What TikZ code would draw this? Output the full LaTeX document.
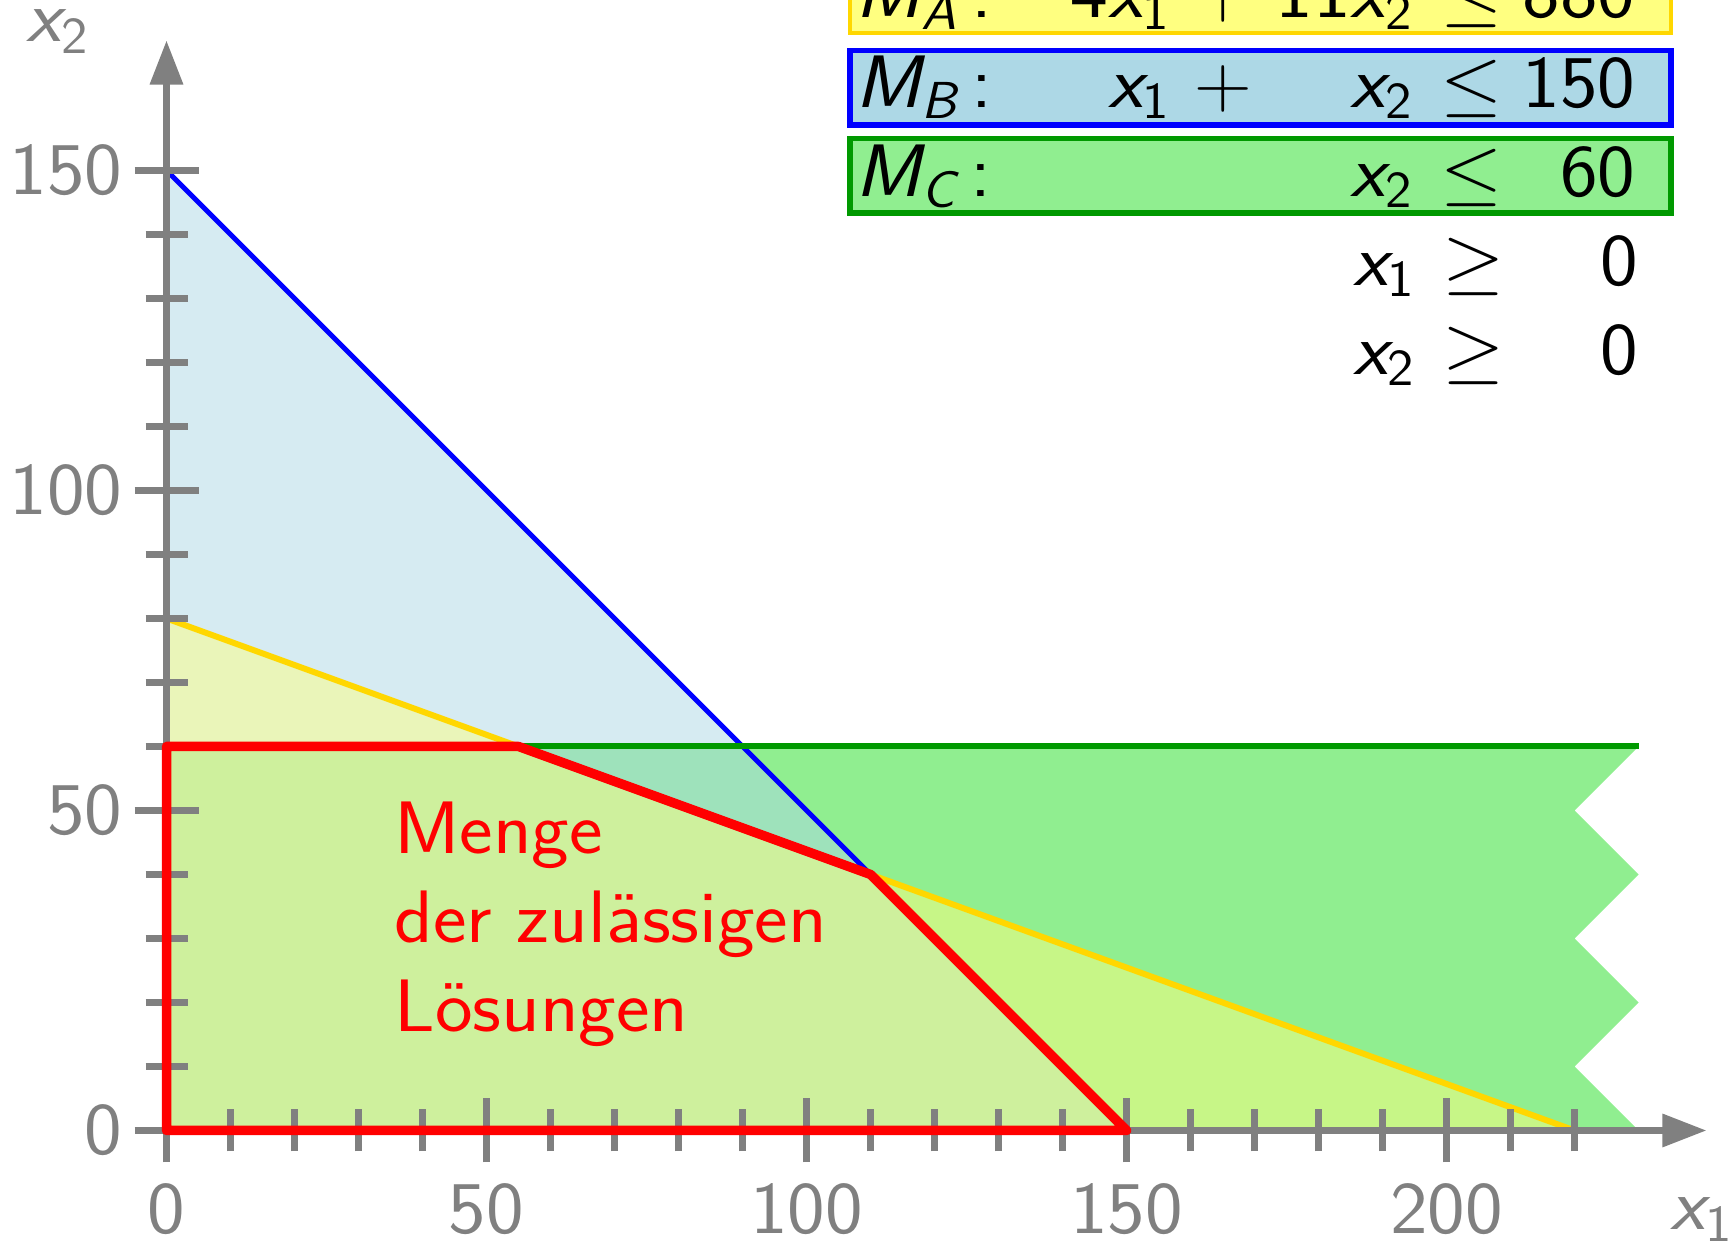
\RequirePackage{fix-cm}
\documentclass[tikz,border=0pt]{standalone}
\usepackage{graphicx}
\usetikzlibrary{arrows.meta}
\definecolor{fillyellow}{RGB}{255,255,128}
\definecolor{fillblue}{RGB}{173,216,230}
\definecolor{fillgreen}{RGB}{144,238,144}
\definecolor{lineyellow}{RGB}{255,215,0}
\definecolor{linegreen}{RGB}{0,153,0}
\definecolor{axisgray}{RGB}{128,128,128}
\newcommand\sx[1]{\scalebox{1.075}[1]{#1}}
\newcommand\vi[2]{{\itshape #1}\textsubscript{#2}}
\newcommand\lab[1]{\vi{M}{\itshape #1}\hspace{0.18em}:}
\begin{document}
\begin{tikzpicture}[x=0.128cm,y=0.128cm,
  every node/.style={font=\sffamily\fontsize{42.3}{50.7}\selectfont, inner sep=0pt},
  axisline/.style={draw=axisgray, line width=0.13cm},
  ticklabel/.style={text=axisgray},
  cell/.style={text=black},
  rowbox/.style={line width=0.11cm}]
\useasboundingbox (-3.33cm,-2.25cm) rectangle (31.31cm,22.61cm);
% regions
\fill[fillgreen] (0,0) -- (0,60) -- (230,60) -- (220,50) -- (230,40) -- (220,30) -- (230,20) -- (220,10) -- (230,0) -- cycle;
\fill[fillblue, opacity=0.5] (0,0) -- (150,0) -- (0,150) -- cycle;
\fill[fillyellow, opacity=0.5] (0,0) -- (220,0) -- (0,80) -- cycle;
% constraint lines
\draw[blue, line width=0.1cm] (0,150) -- (150,0);
\draw[lineyellow, line width=0.12cm] (0,80) -- (220,0);
\draw[linegreen, line width=0.12cm] (0,60) -- (230,60);
% axes
\coordinate (O) at (0,0);
\coordinate (xend) at (240.6,0);
\coordinate (yend) at (0,170.3);
\draw[axisline, -{Triangle[length=0.88cm,width=0.64cm]}] (O) -- (xend);
\draw[axisline, -{Triangle[length=0.88cm,width=0.64cm]}] (O) -- (yend);
\foreach \i in {10,20,30,40,60,70,80,90,110,120,130,140,160,170,180,190,210,220}
  \draw[axisline] ([yshift=-0.42cm]\i,0) -- ([yshift=0.42cm]\i,0);
\foreach \i in {0,50,100,150,200}
  \draw[axisline] ([yshift=-0.64cm]\i,0) -- ([yshift=0.64cm]\i,0);
\foreach \i in {10,20,30,40,60,70,80,90,110,120,130,140}
  \draw[axisline] ([xshift=-0.42cm]0,\i) -- ([xshift=0.42cm]0,\i);
\foreach \i in {0,50,100,150}
  \draw[axisline] ([xshift=-0.64cm]0,\i) -- ([xshift=0.64cm]0,\i);
\foreach \i in {0,50,100,150,200}
  \node[ticklabel, anchor=north] (xl\i) at ([yshift=-1.05cm]\i,0) {\sx{\i}};
\foreach \i in {0,50,100,150}
  \node[ticklabel, anchor=east] (yl\i) at ([xshift=-0.88cm]0,\i) {\sx{\i}};
\node[ticklabel, anchor=base west] (lx2) at (-2.8cm,21.77cm) {\sx{\vi{x}{2}}};
\node[ticklabel, anchor=base west] (lx1) at (30.08cm,-1.99cm) {\sx{\vi{x}{1}}};
% feasible set
\draw[red, line width=0.19cm, line join=round] (0,0) -- (0,60) -- (55,60) -- (110,40) -- (150,0) -- cycle;
\node[text=red, anchor=base west] (feas) at (4.55cm,5.544cm) {\sx{\begin{tabular}[t]{@{}l@{}}Menge\\der zulässigen\\Lösungen\end{tabular}}};
% constraint table
\draw[rowbox, draw=lineyellow, fill=fillyellow, line width=0.09cm] (13.67cm,21.95cm) rectangle (30.09cm,23.43cm);
\draw[rowbox, draw=blue, fill=fillblue] (13.67cm,20.11cm) rectangle (30.09cm,21.6cm);
\draw[rowbox, draw=linegreen, fill=fillgreen] (13.67cm,18.35cm) rectangle (30.09cm,19.84cm);
% row A
\node[cell, anchor=base west] (la) at (13.78cm,22.25cm) {\sx{\lab{A}}};
\node[cell, anchor=base east] (ca) at (20.08cm,22.25cm) {\sx{4\vi{x}{1}}};
\node[cell, anchor=base] (pa) at (21.13cm,22.25cm) {\sx{$+$}};
\node[cell, anchor=base east] (da) at (24.93cm,22.25cm) {\sx{11\vi{x}{2}}};
\node[cell, anchor=base] (ra) at (26.1cm,22.25cm) {\sx{$\le$}};
\node[cell, anchor=base east] (na) at (29.38cm,22.25cm) {\sx{880}};
% row B
\node[cell, anchor=base west] (lb) at (13.78cm,20.464cm) {\sx{\lab{B}}};
\node[cell, anchor=base east] (cb) at (20.08cm,20.464cm) {\sx{\vi{x}{1}}};
\node[cell, anchor=base] (pb) at (21.13cm,20.464cm) {\sx{$+$}};
\node[cell, anchor=base east] (db) at (24.93cm,20.464cm) {\sx{\vi{x}{2}}};
\node[cell, anchor=base] (rb) at (26.1cm,20.464cm) {\sx{$\le$}};
\node[cell, anchor=base east] (nb) at (29.38cm,20.464cm) {\sx{150}};
% row C
\node[cell, anchor=base west] (lc) at (13.78cm,18.68cm) {\sx{\lab{C}}};
\node[cell, anchor=base east] (dc) at (24.93cm,18.68cm) {\sx{\vi{x}{2}}};
\node[cell, anchor=base] (rc) at (26.1cm,18.68cm) {\sx{$\le$}};
\node[cell, anchor=base east] (nc) at (29.38cm,18.68cm) {\sx{60}};
% nonnegativity
\node[cell, anchor=base east] (dd) at (24.98cm,16.9cm) {\sx{\vi{x}{1}}};
\node[cell, anchor=base] (rd) at (26.15cm,16.9cm) {\sx{$\ge$}};
\node[cell, anchor=base east] (nd) at (29.44cm,16.9cm) {\sx{0}};
\node[cell, anchor=base east] (de) at (24.98cm,15.12cm) {\sx{\vi{x}{2}}};
\node[cell, anchor=base] (re) at (26.15cm,15.12cm) {\sx{$\ge$}};
\node[cell, anchor=base east] (ne) at (29.44cm,15.12cm) {\sx{0}};
\end{tikzpicture}
\end{document}
